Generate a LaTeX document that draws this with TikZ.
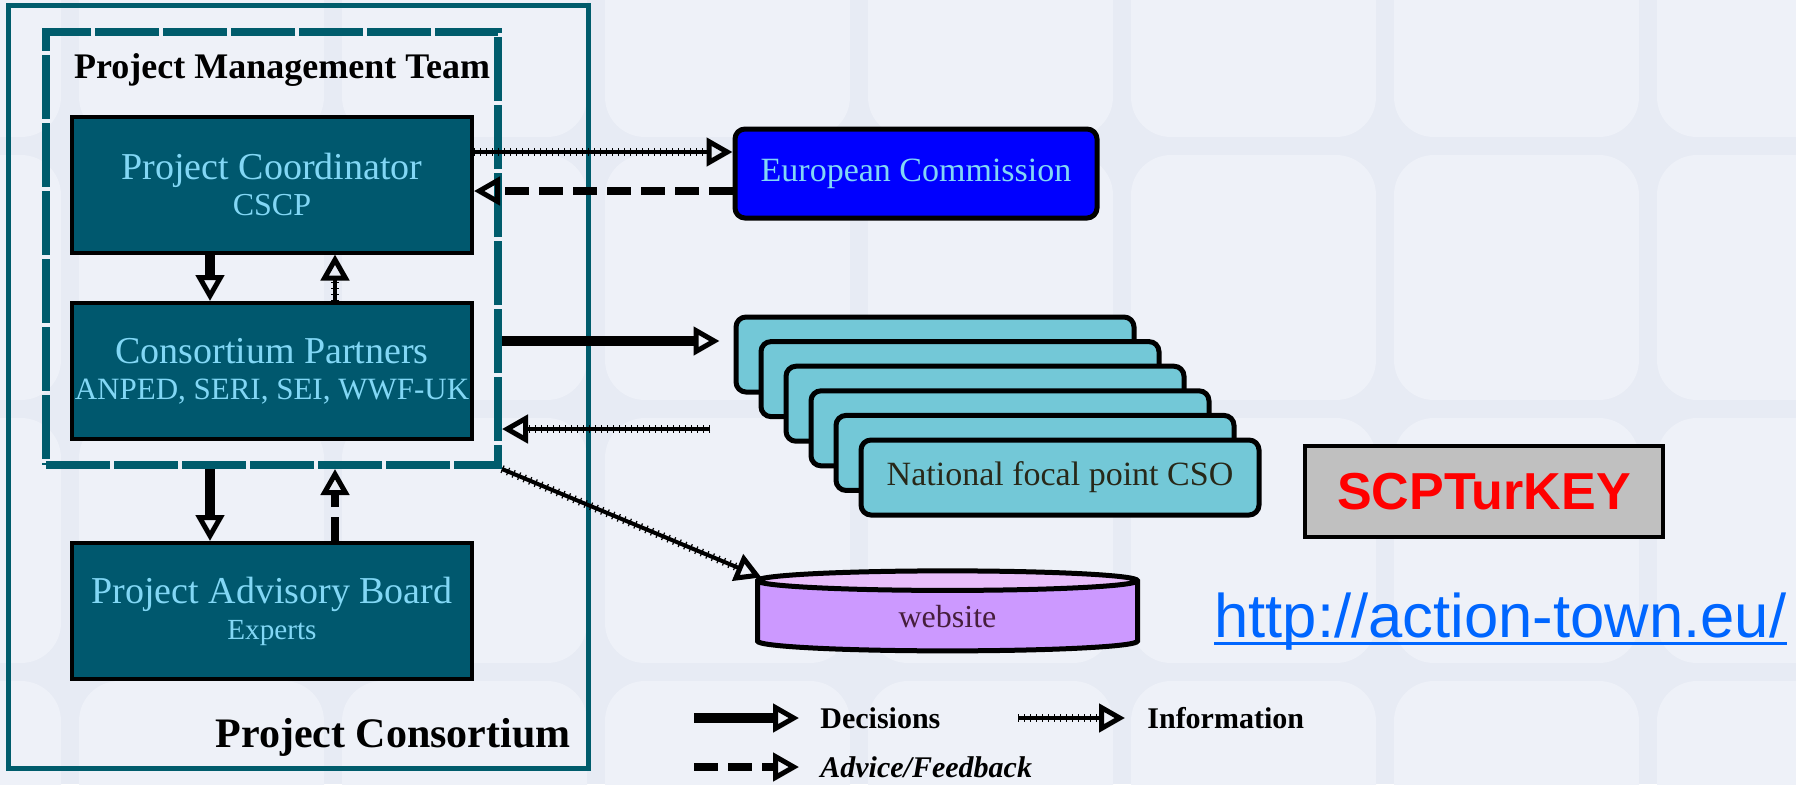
\documentclass[tikz,border=0pt]{standalone}
\usepackage{fontspec}
\setmainfont{Liberation Serif}
\newfontfamily\sansfont{Liberation Sans}
\usetikzlibrary{arrows.meta,shapes.geometric}
\definecolor{bgcol}{RGB}{231,235,244}
\definecolor{tilecol}{RGB}{238,241,248}
\definecolor{tealfill}{RGB}{0,88,110}
\definecolor{tealline}{RGB}{0,92,108}
\definecolor{paletext}{RGB}{130,215,245}
\definecolor{ecblue}{RGB}{0,0,255}
\definecolor{focalfill}{RGB}{115,200,215}
\definecolor{focaltext}{RGB}{40,40,25}
\definecolor{lilac}{RGB}{204,153,255}
\definecolor{lilactop}{RGB}{232,190,250}
\definecolor{webtext}{RGB}{70,30,60}
\definecolor{keygray}{RGB}{192,192,192}
\definecolor{urlblue}{RGB}{0,102,255}

\begin{document}
\begin{tikzpicture}[x=0.5pt,y=-0.5pt,
  openhead/.style={-{Triangle[open,length=13pt,width=14pt,line width=2.5pt]}},
  decision/.style={openhead,line width=5pt},
  info/.style={openhead,line width=2pt,
    postaction={draw,-,line width=4pt,dash pattern=on 0.6pt off 2.4pt,shorten >=13pt}},
  advice/.style={openhead,line width=4pt,dash pattern=on 12pt off 5pt},
  consortbox/.style={draw=tealline,line width=2.5pt,minimum width=290pt,minimum height=381.5pt,inner sep=0pt},
  pmtbox/.style={draw=tealline,line width=4pt,dash pattern=on 32pt off 2pt,minimum width=226pt,minimum height=216.5pt,inner sep=0pt},
  groupname/.style={font=\bfseries\fontsize{18}{20}\selectfont,inner sep=0pt},
  teambox/.style={draw=black,line width=2pt,fill=tealfill,text=paletext,minimum width=200pt,minimum height=68pt,
    inner sep=0pt,align=center,font=\fontsize{19}{18}\selectfont},
  ecbox/.style={draw=black,line width=2.5pt,rounded corners=5pt,fill=ecblue,text=paletext,
    minimum width=181pt,minimum height=44.5pt,font=\fontsize{17}{20}\selectfont},
  focal/.style={draw=black,line width=2.5pt,rounded corners=5pt,fill=focalfill,text=focaltext,
    minimum width=199pt,minimum height=37.5pt,inner sep=0pt,font=\fontsize{17}{20}\selectfont},
  webdisc/.style={cylinder,shape border rotate=90,aspect=0.2,draw=black,line width=2.5pt,
    cylinder uses custom fill,cylinder body fill=lilac,cylinder end fill=lilactop,
    minimum width=190pt,minimum height=40pt,inner sep=0pt,text=webtext,font=\fontsize{16}{19}\selectfont},
  keybox/.style={draw=black,line width=2pt,fill=keygray,text=red,minimum width=179pt,minimum height=45.5pt,
    font=\sansfont\bfseries\fontsize{26}{30}\selectfont},
  linkstyle/.style={anchor=base west,inner sep=0pt,text=urlblue,font=\sansfont\fontsize{30.8}{36}\selectfont},
  legend/.style={anchor=west,inner sep=0pt,font=\bfseries\fontsize{15}{18}\selectfont}]

\fill[bgcol] (0,0) rectangle (1796,784);
\useasboundingbox (0,0) rectangle (1796,784);
\begin{scope}
  \clip (0,0) rectangle (1796,784);
  \foreach \c in {-3,...,4}
    \foreach \r in {-1,...,2}
      \fill[tilecol,rounded corners=20pt] (605+263*\c,155+263*\r) rectangle ++(245,245);
\end{scope}

\node[consortbox] (consort) at (298,386.5) {};
\node[groupname,font=\bfseries\fontsize{21}{24}\selectfont] (consortname) at (393,737) {Project Consortium};
\node[pmtbox] (pmt) at (272,248.5) {};
\node[groupname] (pmtname) at (282,70) {Project Management Team};

\node[teambox] (pc) at (272,184.5) {Project Coordinator\\{\fontsize{16}{18}\selectfont CSCP}};
\node[teambox] (cp) at (272,371) {Consortium Partners\\{\fontsize{15.5}{18}\selectfont ANPED, SERI, SEI, WWF-UK}};
\node[teambox] (pab) at (272,611) {Project Advisory Board\\{\fontsize{14.6}{18}\selectfont Experts}};

\node[ecbox] (ec) at (916,173.5) {European Commission};
\foreach \i in {1,...,5}
  \node[focal] (nfp\i) at (910+25*\i,329.9+24.6*\i) {};
\node[focal] (nfp6) at (1060,477.5) {National focal point CSO};
\node[webdisc] (web) at (947.5,617) {website};
\node[keybox] (scp) at (1484,491.5) {SCPTurKEY};
\node[linkstyle] (url) at (1214,637) {http://action-town.eu/};
\draw[urlblue,line width=1.5pt] ([yshift=-3pt]url.base west) -- ([yshift=-3pt]url.base east);

\draw[decision] ([xshift=-31pt]pc.south) -- ([xshift=-31pt]cp.north);
\draw[info] ([xshift=31.5pt]cp.north) -- ([xshift=31.5pt]pc.south);
\draw[decision] ([xshift=-31pt]pmt.south) -- ([xshift=-31pt]pab.north);
\draw[advice] ([xshift=31.5pt]pab.north) -- ([xshift=31.5pt]pmt.south);
\draw[info] ([yshift=16.25pt]pc.east) -- ([yshift=16.25pt]pc.east -| ec.west);
\draw[advice] ([yshift=-8.75pt]ec.west) -- ([yshift=-8.75pt]ec.west -| pc.east);
\draw[decision,shorten >=7pt] ([yshift=15pt]cp.east -| pmt.east) -- ([yshift=15pt]cp.east -| nfp1.west);
\coordinate (fbk) at (710,429);
\draw[info] (fbk) -- (fbk -| pmt.east);
\draw[info] (pmt.south east) -- (web.168);

\coordinate (keydec) at (694,718);
\node[legend] (ldec) at (820,718) {Decisions};
\draw[decision] (keydec) -- ([xshift=-10.5pt]ldec.west);
\coordinate (keyinf) at (1018,718);
\node[legend] (linf) at (1147,718) {Information};
\draw[info] (keyinf) -- ([xshift=-11pt]linf.west);
\coordinate (keyadv) at (694,767);
\node[legend,font=\bfseries\itshape\fontsize{15}{18}\selectfont] (ladv) at (820,767) {Advice/Feedback};
\draw[advice] (keyadv) -- ([xshift=-10.5pt]ladv.west);
\end{tikzpicture}
\end{document}
